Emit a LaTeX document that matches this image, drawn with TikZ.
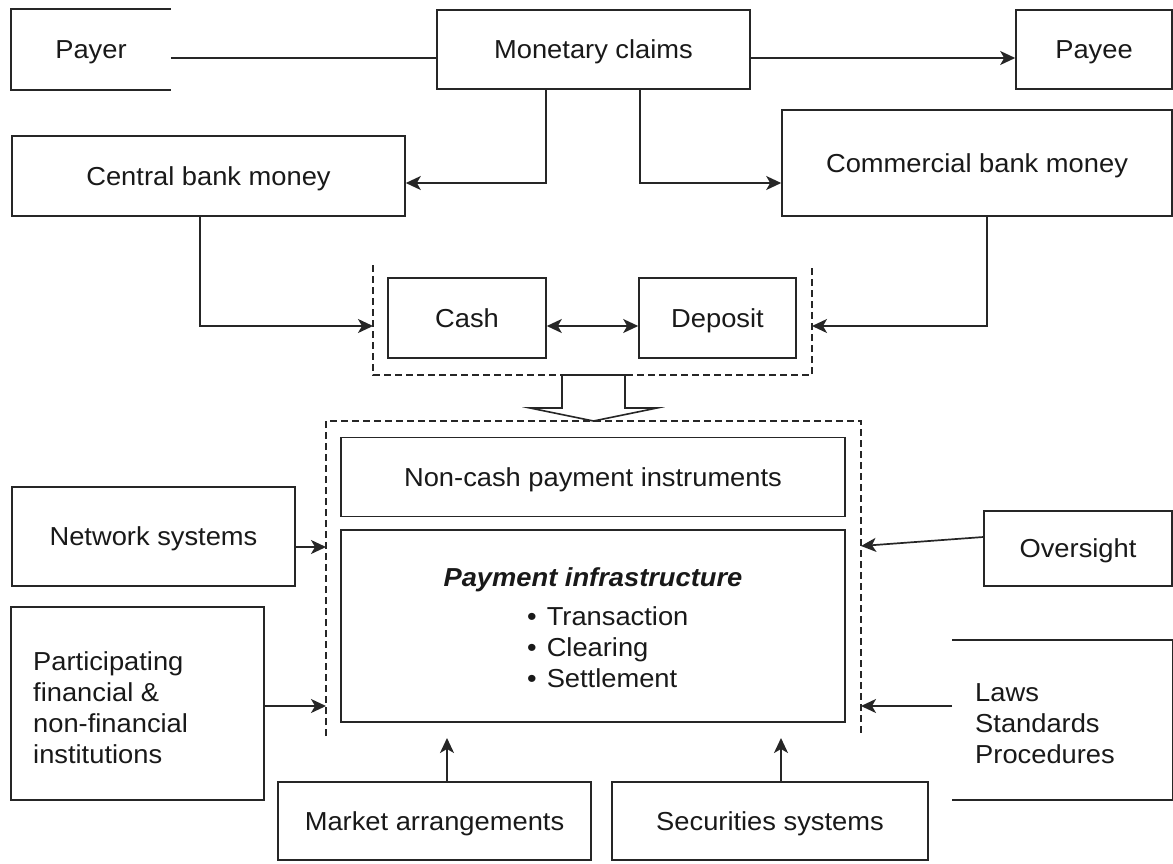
\documentclass[tikz,border=0pt]{standalone}
\usepackage{fontspec}
\setmainfont[FakeStretch=1.05]{Liberation Sans}
\usetikzlibrary{arrows.meta,calc}
\newcommand{\diagfont}{\fontsize{26}{31}\selectfont}
\begin{document}
\begin{tikzpicture}[x=1pt,y=-1pt,
  box/.style={draw=black!85, line width=1.6pt, inner sep=0pt, text=black!90,
    font=\diagfont, text height=18.6pt, text depth=0pt},
  multibox/.style={draw=black!85, line width=1.6pt, inner ysep=0pt, text=black!90,
    font=\diagfont, align=left},
  label/.style={inner sep=0pt, text=black!90, font=\diagfont},
  link/.style={draw=black!85, line width=1.7pt},
  head/.tip={Stealth[length=15pt,width=14pt,inset=4pt]},
  tip/.style={-head},
  fence/.style={draw=black!85, line width=1.3pt, dash pattern=on 7pt off 4pt},
]
\useasboundingbox (0,0) rectangle (1173,863);
\fill[white] (0,0) rectangle (1173,863);

% top row
\node[box, draw=none, minimum width=158pt, minimum height=79pt] (payer) at (91,49.5) {Payer};
\draw[line width=1.6pt, draw=black!85] (payer.north east) -- (payer.north west)
  -- (payer.south west) -- (payer.south east);
\node[box, minimum width=313pt, minimum height=79pt] (mc) at (593.5,49.5) {Monetary claims};
\node[box, minimum width=156pt, minimum height=79pt] (payee) at (1094,49.5) {Payee};

% kinds of money
\node[box, minimum width=393pt, minimum height=80pt] (cb) at (208.5,176) {Central bank money};
\node[box, minimum width=390pt, minimum height=106pt] (cbm) at (977,163) {Commercial bank money};

% cash and deposit
\node[box, minimum width=158pt, minimum height=80pt] (cash) at (467,318) {Cash};
\node[box, minimum width=157pt, minimum height=80pt] (dep) at (717.5,318) {Deposit};

% payment infrastructure block
\node[box, minimum width=504pt, minimum height=79pt] (noncash) at (593,477) {Non-cash payment instruments};
\node[box, minimum width=504pt, minimum height=192pt] (infra) at (593,626) {};
\node[label, text height=18.6pt, text depth=0pt, font=\diagfont\bfseries\itshape]
  (infratitle) at (593,577) {Payment infrastructure};
\node[label, align=left, anchor=west] (infralist) at (527,647)
  {\textbullet\hspace{10pt}Transaction\\ \textbullet\hspace{10pt}Clearing\\ \textbullet\hspace{10pt}Settlement};

% surrounding elements
\node[box, minimum width=283pt, minimum height=99pt] (net) at (153.5,536.5) {Network systems};
\node[box, draw=none, minimum width=251pt, minimum height=191pt] (part) at (137.5,703.5) {};
\draw[line width=1.6pt, draw=black!85] (part.north west) rectangle (part.south east);
\node[label, align=left, anchor=west] (parttext) at (33,708)
  {Participating\\financial \&\\non-financial\\institutions};
\node[box, minimum width=188pt, minimum height=75pt] (over) at (1078,548.5) {Oversight};
\node[box, draw=none, minimum width=219pt, minimum height=158pt] (laws) at (1062.5,720) {};
\draw[line width=1.6pt, draw=black!85] (laws.north west) -- (laws.north east)
  -- (laws.south east) -- (laws.south west);
\node[label, align=left, anchor=west] (lawstext) at (975,724)
  {Laws\\Standards\\Procedures};
\node[box, minimum width=313pt, minimum height=78pt] (market) at (434.5,821) {Market arrangements};
\node[box, minimum width=316pt, minimum height=78pt] (sec) at (770,821) {Securities systems};

% dashed groupings
\draw[fence] (373,265) -- (373,375) -- (812,375) -- (812,265);
\draw[fence] (326,736) -- (326,421) -- (861,421) -- (861,736);

% hollow block arrow between the groups
\draw[line width=1.6pt, draw=black!85, fill=white]
  (562,375) -- (562,408) -- (530,408) -- (593.5,421) -- (657,408) -- (625,408) -- (625,375) -- cycle;

% turning points and entry points of connectors
\coordinate (toplane) at (0,58);
\coordinate (mcL) at (546,183);
\coordinate (mcR) at (640,183);
\coordinate (cbTurn) at (200,326);
\coordinate (cbmTurn) at (987,326);
\coordinate (fenceL) at (373,326);
\coordinate (fenceR) at (812,326);
\coordinate (netIn) at (326,547);
\coordinate (partIn) at (326,706);
\coordinate (overIn) at (861,546);
\coordinate (lawsIn) at (861,706);
\coordinate (mktIn) at (447,738);
\coordinate (secIn) at (781,738);

% connectors
\draw[link] (payer.east |- toplane) -- (mc.west |- toplane);
\draw[link, tip] (mc.east |- toplane) -- (payee.west |- toplane);
\draw[link, tip] (mc.south -| mcL) -- (mcL) -- (cb.east |- mcL);
\draw[link, tip] (mc.south -| mcR) -- (mcR) -- (cbm.west |- mcR);
\draw[link, tip] (cb.south -| cbTurn) -- (cbTurn) -- (fenceL);
\draw[link, tip] (cbm.south -| cbmTurn) -- (cbmTurn) -- (fenceR);
\draw[link, head-head] (cash.east |- fenceL) -- (dep.west |- fenceL);
\draw[link, tip] (net.east |- netIn) -- (netIn);
\draw[link, tip] (part.east |- partIn) -- (partIn);
\draw[link, tip] ($(over.north west)!0.35!(over.south west)$) -- (overIn);
\draw[link, tip] (laws.west |- lawsIn) -- (lawsIn);
\draw[link, tip] (market.north -| mktIn) -- (mktIn);
\draw[link, tip] (sec.north -| secIn) -- (secIn);
\end{tikzpicture}
\end{document}
